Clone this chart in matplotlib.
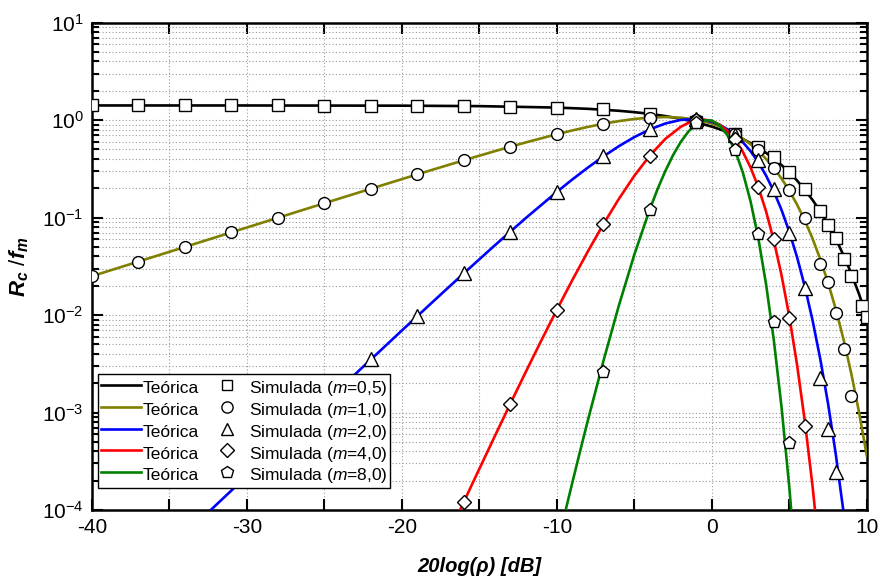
import numpy as np
import matplotlib
matplotlib.use("Agg")
import matplotlib.pyplot as plt
from matplotlib.lines import Line2D
from matplotlib.ticker import LogLocator, MultipleLocator, NullFormatter

plt.rcParams['font.family'] = ['Liberation Sans', 'DejaVu Sans']
plt.rcParams['axes.unicode_minus'] = False
plt.rcParams['mathtext.fontset'] = 'custom'
plt.rcParams['mathtext.rm'] = 'Liberation Sans'
plt.rcParams['mathtext.it'] = 'Liberation Sans:italic:bold'
plt.rcParams['mathtext.sf'] = 'Liberation Sans:italic'

# theoretical curves
x_m05 = [-40, -30, -20, -15, -10, -8, -6, -5, -4, -3, -2, -1, 0,
         0.5, 1, 1.5, 2, 2.5, 3, 3.5, 4, 4.5, 5, 5.5, 6, 6.5, 7, 7.5, 8, 8.5, 9, 9.5, 10]
y_m05 = [1.4142, 1.4135, 1.4071, 1.3920, 1.3452, 1.3065, 1.2470, 1.2071, 1.1587, 1.1005, 1.0311, 0.9508, 0.8578,
         0.8069, 0.7534, 0.6978, 0.6401, 0.5813, 0.5215, 0.4618, 0.4028, 0.3455, 0.2909, 0.2400, 0.1932,
         0.1516, 0.1155, 0.08498, 0.06031, 0.04105, 0.02664, 0.01641, 0.009529]

x_m1 = [-40, -35, -30, -25, -20, -18, -16, -14, -12, -10, -9, -8, -7, -6, -5, -4, -3, -2, -1, 0,
        0.5, 1, 1.5, 2, 2.5, 3, 3.5, 4, 4.5, 5, 5.5, 6, 6.5, 7, 7.5, 8, 8.5, 9, 9.5, 10]
y_m1 = [0.025064, 0.044561, 0.079187, 0.14051, 0.24817, 0.31060, 0.38741, 0.48062, 0.59113, 0.71723,
        0.78417, 0.85164, 0.91712, 0.97723, 1.02743, 1.06216, 1.07504, 1.05945, 1.00953, 0.92213,
        0.86459, 0.79865, 0.72547, 0.64678, 0.56473, 0.48153, 0.39973, 0.32231, 0.25133, 0.18868,
        0.13589, 0.093345, 0.060838, 0.037351, 0.021481, 0.011456, 0.0056172, 0.0025069, 0.0010062, 0.00035987]

x_m2 = [-35, -30, -25, -20, -18, -16, -14, -12, -10, -9, -8, -7, -6, -5, -4, -3, -2, -1, -0.5, 0,
        0.5, 1, 1.5, 2, 2.5, 3, 3.5, 4, 4.5, 5, 5.5, 6, 6.5, 7, 7.5, 8, 8.5, 9]
y_m2 = [3.99e-5, 2.2375e-4, 1.2528e-3, 6.9494e-3, 0.013705, 0.026842, 0.052007, 0.099048, 0.18356,
        0.24620, 0.32582, 0.42396, 0.54006, 0.66986, 0.80324, 0.92320, 1.00603, 1.02497, 1.00355, 0.95950,
        0.89335, 0.80766, 0.70610, 0.59428, 0.47981, 0.36944, 0.26976, 0.18578, 0.11957, 0.071445,
        0.039244, 0.019621, 0.0088264, 0.0035268, 0.0012337, 3.717e-4, 9.473e-5, 2.0e-5]

x_m4 = [-17, -16, -15, -14, -13, -12, -11, -10, -9, -8, -7, -6, -5, -4, -3, -2, -1.5, -1, -0.5, 0,
        0.5, 1, 1.5, 2, 2.5, 3, 3.5, 4, 4.5, 5, 5.5, 6, 6.5, 7]
y_m4 = [5.54e-5, 1.2148e-4, 2.65e-4, 5.7412e-4, 1.2336e-3, 2.6215e-3, 5.4977e-3, 0.011335, 0.022878,
        0.044955, 0.085428, 0.15548, 0.26843, 0.43307, 0.64196, 0.85522, 0.94044, 0.99596, 1.01130, 0.97940,
        0.89950, 0.77822, 0.62996, 0.47304, 0.32653, 0.20512, 0.11587, 0.058143, 0.02553, 0.0096527,
        0.0030857, 8.1705e-4, 1.7508e-4, 2.9614e-5]

x_m8 = [-10, -9.5, -9, -8.5, -8, -7, -6, -5, -4, -3.5, -3, -2.5, -2, -1.5, -1, -0.5, 0,
        0.5, 1, 1.5, 2, 2.5, 3, 3.5, 4, 4.5, 5, 5.5]
y_m8 = [4.1936e-5, 9.0172e-5, 1.9158e-4, 4.0183e-4, 8.3023e-4, 3.3622e-3, 0.012511, 0.041788, 0.12206,
        0.19634, 0.30096, 0.43761, 0.59925, 0.76753, 0.91201, 0.99605, 0.98955,
        0.88424, 0.70128, 0.48652, 0.29060, 0.14665, 0.061300, 0.020729, 5.5279e-3, 1.1290e-3, 1.7087e-4, 1.85e-5]

# simulated points
xs_m05 = [-40, -37, -34, -31, -28, -25, -22, -19, -16, -13, -10, -7, -4, -1,
          1.5, 3, 4, 5, 6, 7, 7.5, 8, 8.5, 9, 9.7, 10]
ys_m05 = [1.414, 1.414, 1.414, 1.414, 1.413, 1.412, 1.410, 1.405, 1.397, 1.379, 1.345, 1.290, 1.159, 0.951,
          0.72, 0.53, 0.415, 0.295, 0.196, 0.117, 0.084, 0.062, 0.038, 0.025, 0.0124, 0.0095]

xs_m1 = [-40, -37, -34, -31, -28, -25, -22, -19, -16, -13, -10, -7, -4, -1,
         1.5, 3, 4, 5, 6, 7, 7.5, 8, 8.5, 9]
ys_m1 = [0.02506, 0.03541, 0.04999, 0.07059, 0.09963, 0.14051, 0.19785, 0.27772, 0.38741, 0.53373,
         0.71723, 0.91712, 1.06216, 1.00953, 0.725, 0.495, 0.321, 0.192, 0.100, 0.0333, 0.0216, 0.0106,
         0.00447, 0.00149]

xs_m2 = [-28, -25, -22, -19, -16, -13, -10, -7, -4, -1, 1.5, 3, 4, 5, 6, 7, 7.5, 8]
ys_m2 = [4.46e-4, 1.253e-3, 3.509e-3, 0.009766, 0.02684, 0.07196, 0.1836, 0.424, 0.803, 1.025,
         0.706, 0.391, 0.197, 0.0702, 0.0190, 0.00225, 6.8e-4, 2.48e-4]

xs_m4 = [-16, -13, -10, -7, -4, -1, 1.5, 3, 4, 5, 6]
ys_m4 = [1.21e-4, 1.23e-3, 0.01134, 0.0854, 0.433, 0.996, 0.637, 0.205, 0.060, 0.0093, 7.35e-4]

xs_m8 = [-7, -4, -1, 1.5, 3, 4, 5]
ys_m8 = [0.0026, 0.120, 0.93, 0.49, 0.068, 0.0085, 4.9e-4]

m_labels = ['0,5', '1,0', '2,0', '4,0', '8,0']
colors = ['black', '#808000', '#0000ff', '#ff0000', '#008000']
markers = ['s', 'o', '^', 'D', 'p']
msizes = [8, 8.5, 9.5, 7, 9.5]

curves = [(x_m05, y_m05), (x_m1, y_m1), (x_m2, y_m2), (x_m4, y_m4), (x_m8, y_m8)]
sims = [(xs_m05, ys_m05), (xs_m1, ys_m1), (xs_m2, ys_m2), (xs_m4, ys_m4), (xs_m8, ys_m8)]

fig = plt.figure(figsize=(8.8, 5.81), dpi=100)
ax = fig.add_axes([0.1045, 0.1222, 0.8805, 0.8388])

for (xc, yc), c in zip(curves, colors):
    ax.plot(xc, yc, color=c, lw=1.9, zorder=3)
for (xm, ym), mk, ms in zip(sims, markers, msizes):
    ax.plot(xm, ym, ls='none', marker=mk, ms=ms, mfc='white', mec='black', mew=1.0, zorder=4)

ax.set_yscale('log')
ax.set_xlim(-40, 10)
ax.set_ylim(1e-4, 10)
ax.xaxis.set_major_locator(MultipleLocator(10))
ax.xaxis.set_minor_locator(MultipleLocator(5))
ax.yaxis.set_major_locator(LogLocator(base=10, numticks=10))
ax.yaxis.set_minor_locator(LogLocator(base=10, subs=np.arange(2, 10), numticks=20))
ax.yaxis.set_minor_formatter(NullFormatter())

ax.grid(True, which='both', color='#999999', ls=(0, (1, 2)), lw=0.8)
ax.set_axisbelow(True)
ax.tick_params(which='both', direction='in', top=True, right=True, labelsize=15, width=1.5)
ax.tick_params(which='major', length=8, pad=6)
ax.tick_params(axis='y', which='minor', length=5)
ax.tick_params(axis='x', which='minor', length=8)
for s in ax.spines.values():
    s.set_linewidth(1.8)

ax.set_xlabel('20log(ρ) [dB]', fontsize=14.5, fontweight='bold', fontstyle='italic', labelpad=14)
ax.set_ylabel(r'$R_c\ /f_m$', fontsize=16, labelpad=8)

handles = [Line2D([], [], color=c, lw=1.9) for c in colors]
handles += [Line2D([], [], ls='none', marker=mk, ms=ms * 0.95, mfc='white', mec='black', mew=1.0)
            for mk, ms in zip(markers, msizes)]
labels = ['Teórica'] * 5 + [r'Simulada ($\mathsf{m}$=' + m + ')' for m in m_labels]
# a tall handle box gives both legend columns the same row height
leg = ax.legend(handles, labels, ncol=2, loc='lower left', bbox_to_anchor=(0.008, 0.045),
                borderaxespad=0, fontsize=12.5, handlelength=2.3, handleheight=1.55,
                handletextpad=0.1, columnspacing=0.5, labelspacing=0.0, borderpad=0.15,
                fancybox=False, framealpha=1, edgecolor='black')
leg.get_frame().set_linewidth(1.0)

fig.savefig('out.png', dpi=100)
